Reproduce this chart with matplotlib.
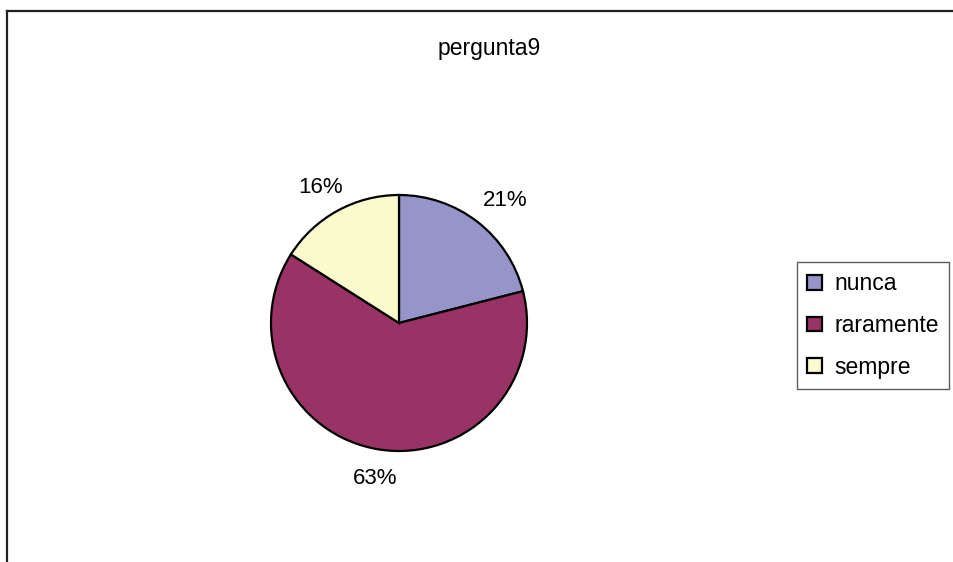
import matplotlib
matplotlib.use("Agg")
import matplotlib.pyplot as plt
from matplotlib.lines import Line2D

title = "pergunta9"
categories = ["nunca", "raramente", "sempre"]
values = [21, 63, 16]
colors = ["#9595C9", "#993366", "#FAFACC"]

plt.rcParams['font.family'] = ['Liberation Sans', 'DejaVu Sans']

W, H = 954, 562
fig = plt.figure(figsize=(W / 100, H / 100), dpi=100)

# frame lines (top and left)
fig.add_artist(Line2D([7.5 / W, 1.0], [1 - 10.5 / H, 1 - 10.5 / H], color="#222222", lw=1.6))
fig.add_artist(Line2D([7.5 / W, 7.5 / W], [0, 1 - 10.5 / H], color="#222222", lw=1.6))

cx, cy, r = 399, 323, 128
ax = fig.add_axes([(cx - r) / W, 1 - (cy + r) / H, 2 * r / W, 2 * r / H])
wedges, texts, autotexts = ax.pie(
    values, colors=colors, startangle=90, counterclock=False,
    autopct=lambda p: f"{p:.0f}%", pctdistance=1.22,
    wedgeprops=dict(edgecolor="black", linewidth=1.6),
    textprops=dict(fontsize=16, color="black"))
ax.set_xlim(-1, 1)
ax.set_ylim(-1, 1)
ax.set_axis_off()
for t in autotexts:
    x, y = t.get_position()
    t.set_position((x * 1.08 + 0.02, y - 0.01))
    t.set_clip_on(False)

fig.text(489 / W, 1 - 49 / H, title, ha="center", va="center", fontsize=16.5)

leg = fig.legend(wedges, categories, loc="upper left",
                 bbox_to_anchor=(797 / W, 1 - 262 / H), borderaxespad=0,
                 frameon=True, fancybox=False, edgecolor="#333333",
                 fontsize=16.5, handlelength=0.62, handleheight=0.62,
                 handletextpad=0.55, labelspacing=0.82, borderpad=0.45)
leg.get_frame().set_linewidth(1.0)

fig.savefig("out.png", dpi=100)
